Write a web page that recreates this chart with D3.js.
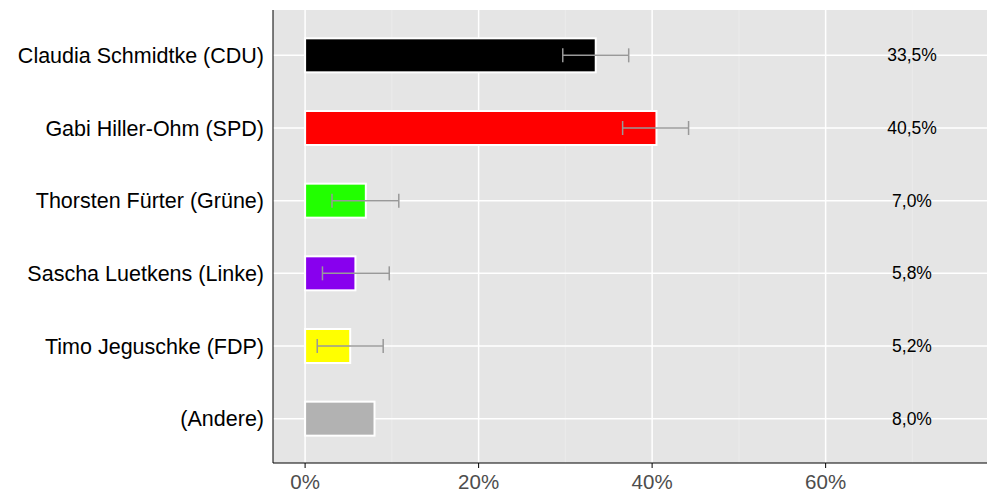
<!DOCTYPE html><html><head><meta charset="utf-8">
<script src="https://cdn.jsdelivr.net/npm/d3@7"></script>
<style>body{margin:0;background:#fff}</style></head><body><svg id="c" width="1000" height="500"></svg>
<script>
const categories=["Claudia Schmidtke (CDU)","Gabi Hiller-Ohm (SPD)","Thorsten Fürter (Grüne)","Sascha Luetkens (Linke)","Timo Jeguschke (FDP)","(Andere)"];
const values=[33.5,40.5,7.0,5.8,5.2,8.0];
const errLow=[29.7,36.6,3.1,2.0,1.4,null];
const errHigh=[37.3,44.2,10.8,9.7,9.0,null];
const colors=["#000000","#ff0000","#22ff00","#8800ee","#ffff00","#b2b2b2"];
const labels=["33,5%","40,5%","7,0%","5,8%","5,2%","8,0%"];
const ticks=[0,20,40,60];
const svg=d3.select("#c");
const L=273,R=987,T=10,B=463;
const x=d3.scaleLinear().domain([-3.7,78.6]).range([L,R]);
const y=d3.scaleBand().domain(categories).range([T+9,B-8]).padding(0);
const font="Liberation Sans, Arial, sans-serif";
svg.append("rect").attr("x",L).attr("y",T).attr("width",R-L).attr("height",B-T).attr("fill","#e5e5e5");
[10,30,50,70].forEach(t=>svg.append("line").attr("x1",x(t)).attr("x2",x(t)).attr("y1",T).attr("y2",B).attr("stroke","#ebebeb").attr("stroke-width",1));
ticks.forEach(t=>svg.append("line").attr("x1",x(t)).attr("x2",x(t)).attr("y1",T).attr("y2",B).attr("stroke","#fff").attr("stroke-width",1.5));
categories.forEach(c=>svg.append("line").attr("x1",L).attr("x2",R).attr("y1",y(c)+y.bandwidth()/2).attr("y2",y(c)+y.bandwidth()/2).attr("stroke","#fff").attr("stroke-width",1.5));
const bh=34;
categories.forEach((c,i)=>{
 const cy=y(c)+y.bandwidth()/2;
 svg.append("rect").attr("x",x(0)).attr("y",cy-bh/2).attr("width",x(values[i])-x(0)).attr("height",bh).attr("fill",colors[i]).attr("stroke","#fff").attr("stroke-width",2);
 if(errLow[i]!=null){
  const g=svg.append("g").attr("stroke","#999").attr("stroke-width",1.5);
  g.append("line").attr("x1",x(errLow[i])).attr("x2",x(errHigh[i])).attr("y1",cy).attr("y2",cy);
  [errLow[i],errHigh[i]].forEach(v=>g.append("line").attr("x1",x(v)).attr("x2",x(v)).attr("y1",cy-7).attr("y2",cy+7));
 }
 svg.append("text").attr("x",912).attr("y",cy).attr("dy","0.35em").attr("text-anchor","middle").attr("font-family",font).attr("font-size",17.5).text(labels[i]);
 svg.append("text").attr("x",264).attr("y",cy).attr("dy","0.35em").attr("text-anchor","end").attr("font-family",font).attr("font-size",21.5).text(c);
});
svg.append("line").attr("x1",L).attr("x2",L).attr("y1",T).attr("y2",B).attr("stroke","#000");
svg.append("line").attr("x1",L).attr("x2",R).attr("y1",B).attr("y2",B).attr("stroke","#000");
ticks.forEach(t=>{
 svg.append("line").attr("x1",x(t)).attr("x2",x(t)).attr("y1",B).attr("y2",B+5).attr("stroke","#000");
 svg.append("text").attr("x",x(t)).attr("y",B+26).attr("text-anchor","middle").attr("font-family",font).attr("font-size",20.5).attr("fill","#4d4d4d").text(t+"%");
});
</script></body></html>
